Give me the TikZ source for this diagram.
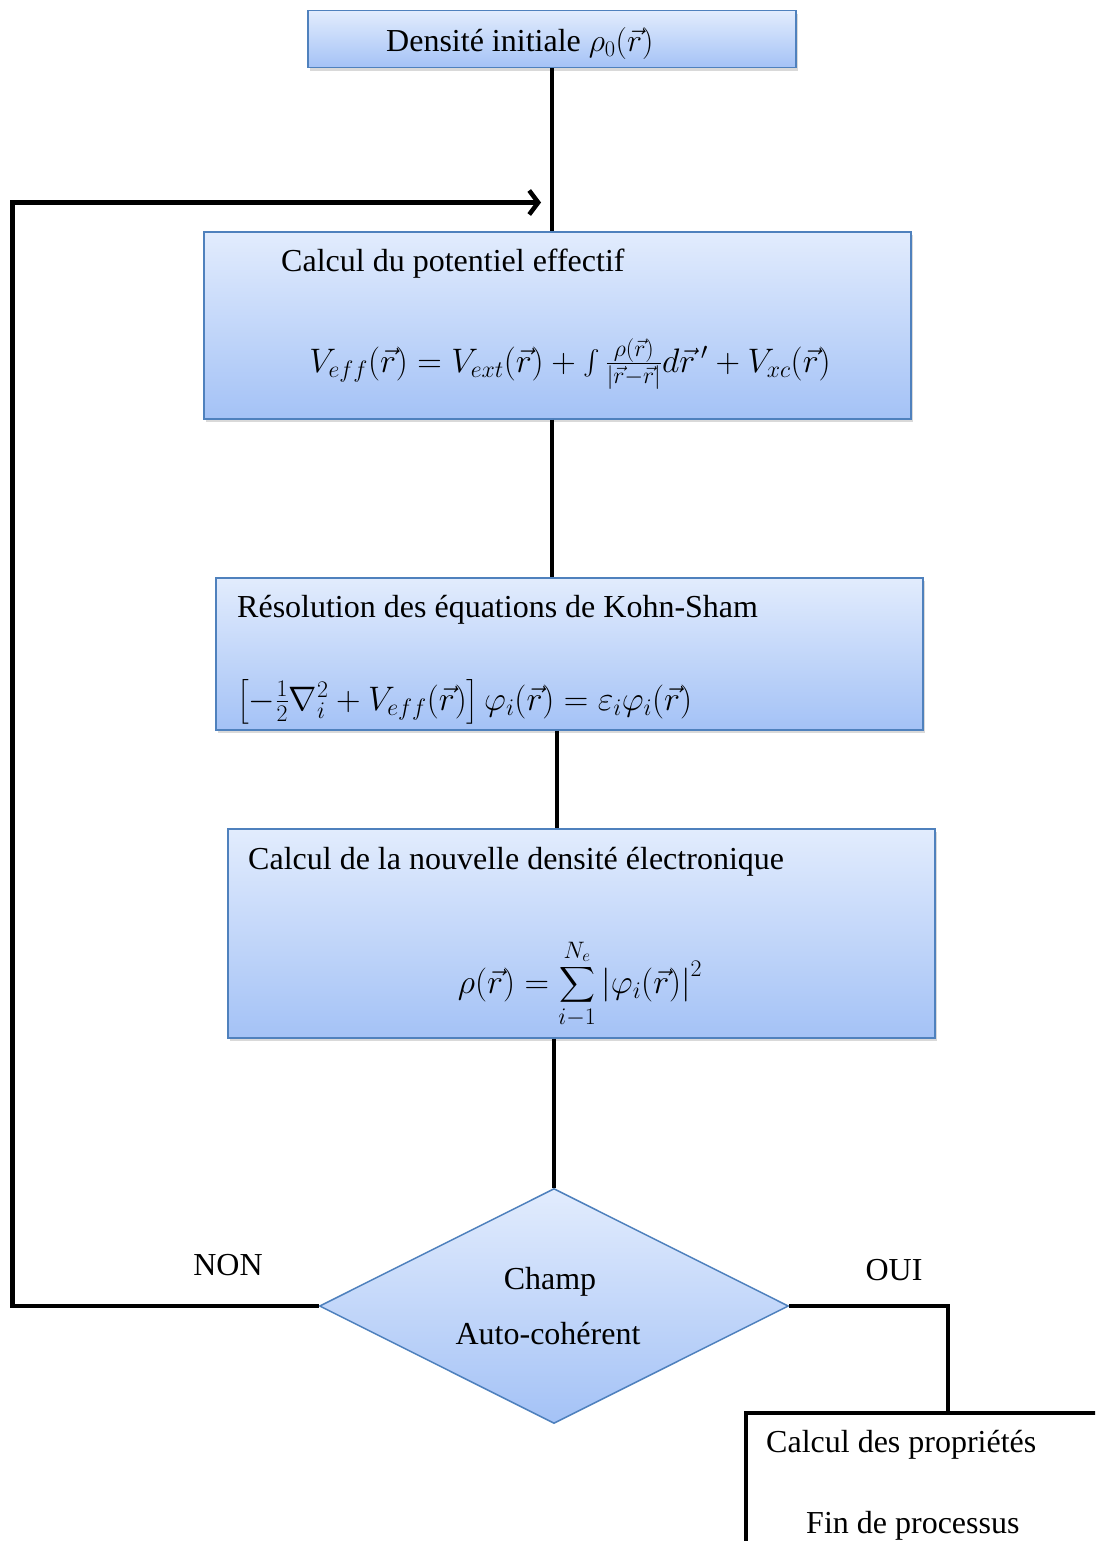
\RequirePackage{fix-cm}
\documentclass[tikz,border=0pt]{standalone}
\usepackage{amsmath}
\usepackage{fontspec}
\setmainfont{Liberation Serif}
\usetikzlibrary{shapes.geometric,shadows,arrows.meta}
\definecolor{boxtop}{RGB}{226,236,253}
\definecolor{boxbot}{RGB}{164,194,246}
\definecolor{boxborder}{RGB}{79,129,189}
\begin{document}
\begin{tikzpicture}[x=1pt,y=-1pt,
  box/.style={draw=boxborder, line width=1.5pt, top color=boxtop, bottom color=boxbot,
    drop shadow={shadow xshift=2pt,shadow yshift=-3pt,opacity=0.3}, inner sep=0pt, anchor=north west},
  txt/.style={font=\fontsize{32}{38}\selectfont, inner sep=0pt},
  mth/.style={font=\fontsize{34}{40}\selectfont, inner sep=0pt},
  conn/.style={line width=4.5pt, black},
]
\useasboundingbox (0,0) rectangle (1095,1541);
\clip (0,0) rectangle (1095,1541);

% boxes
\node[box, minimum width=488pt, minimum height=57pt] (init) at (307,10) {};
\node[box, minimum width=707pt, minimum height=187pt] (pot) at (203,231) {};
\node[box, minimum width=707pt, minimum height=152pt] (res) at (215,577) {};
\node[box, minimum width=707pt, minimum height=209pt] (dens) at (227,828) {};
\node[diamond, draw=boxborder, line width=1.5pt, top color=boxtop, bottom color=boxbot,
  minimum width=469pt, minimum height=235pt, inner sep=0pt, aspect=2] (dec) at (554,1306) {};
\node[draw, line width=4pt, minimum width=404pt, minimum height=220pt, inner sep=0pt,
  anchor=north west] (fin) at (744,1411) {};

% texts
\node[txt, anchor=base west] (t1) at (386,52) {Densité initiale $\rho_0(\vec r)$};
\node[txt, anchor=base west] (t2) at (281,271) {Calcul du potentiel effectif};
\node[mth, anchor=base] (f2) at (570,372) {$V_{eff}(\vec r)=V_{ext}(\vec r)+\int\frac{\rho(\vec r)}{\left|\vec r-\vec r\right|}d\vec r\,'+V_{xc}(\vec r)$};
\node[txt, anchor=base west] (t3) at (237,617) {Résolution des équations de Kohn-Sham};
\node[mth, anchor=base west] (f3) at (237,710) {$\left[-\frac12\nabla_i^2+V_{eff}(\vec r)\right]\varphi_i(\vec r)=\varepsilon_i\varphi_i(\vec r)$};
\node[txt, anchor=base west] (t4) at (248,869) {Calcul de la nouvelle densité électronique};
\node[mth, anchor=base] (f4) at (580,993) {$\rho(\vec r)=\displaystyle\sum_{i-1}^{N_e}\left|\varphi_i(\vec r)\right|^2$};
\node[txt, anchor=base] (c1) at (550,1289) {Champ};
\node[txt, anchor=base] (c2) at (548,1344) {Auto-cohérent};
\node[txt, anchor=base] (non) at (228,1275) {NON};
\node[txt, anchor=base] (oui) at (894,1280) {OUI};
\node[txt, anchor=base west] (p1) at (766,1452) {Calcul des propriétés};
\node[txt, anchor=base west] (p2) at (806,1533) {Fin de processus};

% connectors
\coordinate (lc) at (12.5,202.5);
\coordinate (ae) at (541,202.5);
\draw[conn] (init.south) -- (init.south |- pot.north);
\draw[conn] ([xshift=-5.5pt]pot.south) -- ([xshift=-5.5pt]pot.south |- res.north);
\draw[conn] ([xshift=-12.5pt]res.south) -- ([xshift=-12.5pt]res.south |- dens.north);
\draw[conn] (dec.north |- dens.south) -- (dec.north);
\draw[conn, -{Straight Barb[length=9pt,width=24pt]}] (dec.west) -| (lc) -- (ae);
\draw[conn] (dec.east) -| (fin.north);
\end{tikzpicture}
\end{document}
